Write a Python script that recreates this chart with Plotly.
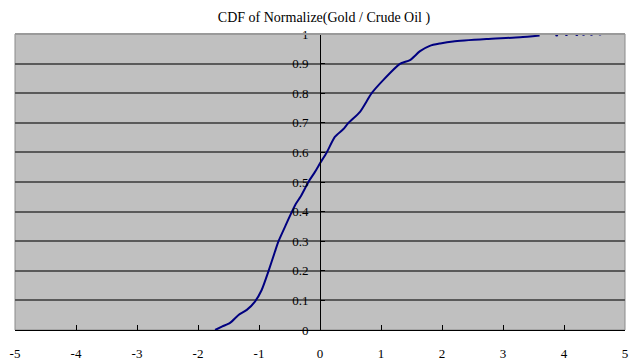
import plotly.graph_objects as go

cdf_x = [-1.72, -1.6, -1.475, -1.34, -1.2, -1.066, -0.956, -0.847, -0.738, -0.68,
         -0.56, -0.46, -0.40, -0.32, -0.19, -0.08, 0.0, 0.11, 0.246, 0.38, 0.46,
         0.656, 0.847, 1.04, 1.31, 1.475, 1.64, 1.80, 1.97, 2.18, 2.73, 3.28, 3.6]
cdf_y = [0.0, 0.012, 0.024, 0.05, 0.068, 0.096, 0.135, 0.197, 0.265, 0.30,
         0.355, 0.40, 0.425, 0.45, 0.50, 0.535, 0.563, 0.60, 0.653, 0.678, 0.698,
         0.737, 0.80, 0.845, 0.899, 0.912, 0.942, 0.960, 0.968, 0.975, 0.983, 0.989, 0.995]
tail_x = [3.88, 4.04, 4.21, 4.32, 4.45, 4.59]
tail_y = [0.997, 0.998, 0.998, 0.999, 0.999, 1.0]

x_ticks = [-5, -4, -3, -2, -1, 0, 1, 2, 3, 4, 5]
x_labels = ["-5", "-4", "-3", "-2", "-1", "0", "1", "2", "3", "4", "5"]
y_ticks = [0, 0.1, 0.2, 0.3, 0.4, 0.5, 0.6, 0.7, 0.8, 0.9, 1]
title = "CDF of Normalize(Gold / Crude Oil )"

NAVY = "#000080"
SERIF = "Liberation Serif"

fig = go.Figure()
fig.add_trace(go.Scatter(x=cdf_x, y=cdf_y, mode="lines",
                         line=dict(color=NAVY, width=2, shape="spline", smoothing=0.6),
                         showlegend=False))
fig.add_trace(go.Scatter(x=tail_x, y=tail_y, mode="markers",
                         marker=dict(color=NAVY, size=3), showlegend=False))

# the page body has an 8px margin, so the figure is sized to fit the window
fig.update_layout(
    width=632, height=354,
    margin=dict(l=7, r=15, t=26, b=32, autoexpand=False),
    paper_bgcolor="white", plot_bgcolor="#C0C0C0",
    title=dict(text=title, x=0.5, xref="container", xanchor="center",
               y=0.975, yref="container", yanchor="middle",
               font=dict(family=SERIF, size=14, color="black")),
    font=dict(family=SERIF, size=13, color="black"),
    xaxis=dict(range=[-5, 5], tickvals=x_ticks, ticktext=x_labels,
               ticks="inside", ticklen=5,
               tickcolor="black", showgrid=False, zeroline=False,
               showline=True, linecolor="black", linewidth=1,
               ticklabelstandoff=11, fixedrange=True, automargin=False),
    yaxis=dict(range=[0, 1], tickvals=y_ticks, anchor="free", position=0.5,
               ticks="inside", ticklen=4, tickcolor="black",
               showgrid=True, gridcolor="#5a5a5a", gridwidth=1.5,
               zeroline=False, showline=True, linecolor="black", linewidth=1,
               ticklabelstandoff=9, fixedrange=True, automargin=False),
)
# light plot-area frame
fig.add_shape(type="rect", xref="paper", yref="paper", x0=0, x1=1, y0=0, y1=1,
              line=dict(color="#8a8a8a", width=1), layer="below")
fig.add_shape(type="line", xref="paper", yref="paper", x0=0, x1=1, y0=1, y1=1,
              line=dict(color="#9a9a9a", width=2), layer="above")

fig.write_html("out.html")
